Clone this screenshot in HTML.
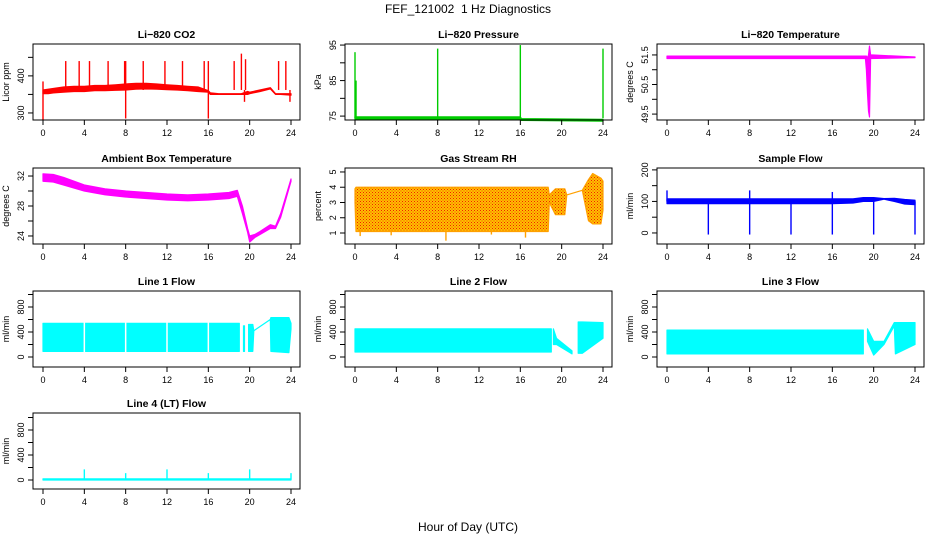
<!DOCTYPE html>
<html><head><meta charset="utf-8">
<style>
html,body{margin:0;padding:0;background:#fff;}
svg{display:block;font-family:"Liberation Sans",sans-serif;}
</style></head>
<body>
<svg id="fig" width="936" height="540" viewBox="0 0 936 540">
<defs>
<pattern id="rhpat" width="3" height="3" patternUnits="userSpaceOnUse">
<rect width="3" height="3" fill="#ffc000"/><rect x="0" y="0" width="1" height="1" fill="#f02000"/><rect x="1.5" y="1.5" width="1" height="1" fill="#f04000"/>
</pattern>
</defs>
<text x="468" y="13" font-size="12" text-anchor="middle" style="white-space:pre">FEF_121002  1 Hz Diagnostics</text>
<text x="468" y="531" font-size="12" text-anchor="middle">Hour of Day (UTC)</text>
</svg>
<script>
// ---- data ----
const xTicks = [0,4,8,12,16,20,24];

const co2T  = [0,0.5,1,2,3,4,5,6,7,8,9,10,11,12,13,14,15,16,16.2,17,18,19,19.2,19.8,20,21,22,22.5,23,24];
const co2Lo = [352,352,354,356,358,358,360,360,361,362,364,365,364,363,362,360,358,356,350,350,350,350,350,350,352,358,365,350,350,348];
const co2Hi = [362,364,366,370,372,372,374,374,376,378,380,380,378,376,374,372,370,360,354,352,352,352,352,358,356,362,368,352,352,352];
const co2SpikeT = [0,0,2.2,3.5,4.5,6.3,7.9,8,8,9.7,11.8,13.5,15.6,16,16,18.5,19.2,19.5,19.6,22.8,23.5,23.9];
const co2SpikeV = [385,280,440,440,440,440,440,440,285,440,440,440,440,440,285,440,460,330,445,440,440,330];

const presT  = [0,16,16.1,24];
const presLo = [74.1,74.1,73.8,73.6];
const presHi = [74.8,74.8,74.3,74.1];
const presSpikeT = [0,0.1,8,16,24];
const presSpikeV = [93,85,94,95,94];

const tempT  = [0,19.2,19.3,19.4,19.5,19.6,19.7,24];
const tempLo = [51.38,51.38,51.0,50.2,49.6,49.4,51.38,51.41];
const tempHi = [51.46,51.46,51.46,51.4,51.5,51.8,51.5,51.43];

const ambT  = [0,1,2,4,6,8,10,12,14,16,18,18.8,19.3,19.8,20,20.5,21,22,22.5,23,24];
const ambLo = [31.3,31.2,30.8,30,29.5,29.2,29.0,28.8,28.7,28.8,29.0,29.3,27,24.5,23.2,23.8,24.2,25,25,26.5,31.3];
const ambHi = [32.3,32.2,31.8,30.8,30.3,30,29.8,29.6,29.5,29.6,29.8,30.1,28,25,24,24.2,24.6,25.5,25.3,27,31.6];

const rhT  = [0,0.1,18.7,18.8,19.4,20.3,20.5,22,22.6,23,23.8,24];
const rhLo = [3,1.1,1.1,3,2.2,2.2,3.5,3.8,1.8,1.6,1.6,2.5];
const rhHi = [3.9,4,4,3.5,3.9,3.9,3.5,3.8,4.5,4.9,4.6,4.4];
const rhSpikeT = [0.5,3.5,8.8,13.2,16.5];
const rhSpikeV = [0.8,0.85,0.5,0.9,0.7];

const sampT  = [0,4,8,12,16,18,19,20,21,22,23,24];
const sampLo = [93,93,93,93,93,95,100,100,107,100,92,90];
const sampHi = [108,108,108,108,108,108,112,112,109,110,106,104];
const sampSpikeT = [4,8,12,16,20,24,0,8,16];
const sampSpikeV = [-5,-5,-5,-5,-5,-5,135,135,130];

const l1T  = [0,19,19.1,19.4,19.5,19.8,19.9,20.3,20.4,22,22.05,23.8,24];
const l1Lo = [90,90,null,90,90,null,90,90,420,600,90,70,450];
const l1Hi = [540,540,null,500,500,null,520,520,420,600,630,630,540];
const l2T  = [0,19,19.1,19.2,19.5,21,21.5,21.6,22,24];
const l2Lo = [80,80,null,200,200,50,null,60,60,300];
const l2Hi = [450,450,null,450,300,100,null,560,560,550];
const l3T  = [0,19,19.1,19.4,20,21,22,22.1,24];
const l3Lo = [50,50,null,250,30,200,500,50,200];
const l3Hi = [430,430,null,450,250,250,550,550,550];
const gapT = [4,8,12,16];
const l4T  = [0,24];
const l4Lo = [0,0];
const l4Hi = [20,20];
const l4SpikeT = [4,8,12,16,20,24];
const l4SpikeV = [170,110,170,110,170,110];

// ---- layout ----
const NS="http://www.w3.org/2000/svg";
const svg=document.getElementById('fig');
const colL=[33,345,657], rowT=[44,168,291,413], W=267, H=76;
function mk(tag,attrs,parent){const e=document.createElementNS(NS,tag);for(const k in attrs)e.setAttribute(k,attrs[k]);(parent||svg).appendChild(e);return e;}

function panel(col,row,name,title,ylab,ydom,yticks,ylabels,color,T,Lo,Hi,spT,spV,spBase,fill,gaps){
  const L=colL[col], Tp=rowT[row];
  const g=mk('g',{});
  
  
  const xs=h=>L+10+h*(248/24);
  const ys=v=>Tp+H-(v-ydom[0])/(ydom[1]-ydom[0])*H;
  const t=mk('text',{x:L+W/2,y:Tp-6,'font-size':10.5,'font-weight':'bold','text-anchor':'middle'},g);
  t.textContent=title;
  
  
  const cg=mk('g',{},g);
  
  
  let seg=[];
  const flush=()=>{ if(seg.length){
      const top=seg.map(i=>xs(T[i]).toFixed(1)+','+ys(Hi[i]).toFixed(1));
      const bot=seg.slice().reverse().map(i=>xs(T[i]).toFixed(1)+','+ys(Lo[i]).toFixed(1));
      const p=mk('polygon',{points:top.concat(bot).join(' '),fill:fill||color,stroke:color,'stroke-width':1.2,'stroke-linejoin':'round'},cg);
      
      
    } seg=[]; };
  for(let i=0;i<T.length;i++){ if(Lo[i]===null){flush();} else seg.push(i); }
  flush();
  if(gaps){ gaps.forEach(h=>{const l=mk('line',{x1:xs(h),x2:xs(h),y1:ys(Hi[0])-2,y2:ys(Lo[0])+2,stroke:'#fff','stroke-width':1.5},cg);
    
    }); }
  if(spT){ spT.forEach((h,i)=>{const l=mk('line',{x1:xs(h),x2:xs(h),y1:ys(spBase),y2:ys(spV[i]),stroke:color,'stroke-width':1.4},cg);
    
    }); }
  const b=mk('rect',{x:L,y:Tp,width:W,height:H,fill:'none',stroke:'#000','stroke-width':1},g);
  
  
  const xa=mk('g',{},g);
  
  
  mk('line',{x1:xs(0),x2:xs(24),y1:Tp+H,y2:Tp+H,stroke:'#000'},xa);
  xTicks.forEach(h=>{mk('line',{x1:xs(h),x2:xs(h),y1:Tp+H,y2:Tp+H+5,stroke:'#000'},xa);
    const tx=mk('text',{x:xs(h),y:Tp+H+16,'font-size':9,'text-anchor':'middle'},xa);tx.textContent=h;
    
    });
  const ya=mk('g',{},g);
  
  
  mk('line',{x1:L,x2:L,y1:ys(yticks[0]),y2:ys(yticks[yticks.length-1]),stroke:'#000'},ya);
  yticks.forEach(v=>{mk('line',{x1:L-5,x2:L,y1:ys(v),y2:ys(v),stroke:'#000'},ya);});
  ylabels.forEach(v=>{const tx=mk('text',{x:L-9,y:ys(v),'font-size':9,'text-anchor':'middle',transform:`rotate(-90 ${L-9} ${ys(v)})`},ya);tx.textContent=v;
    
    });
  const yl=mk('text',{x:L-24,y:Tp+H/2,'font-size':9,'text-anchor':'middle',transform:`rotate(-90 ${L-24} ${Tp+H/2})`},ya);
  yl.textContent=ylab;
  
  
}

panel(0,0,'co2','Li\u2212820 CO2','Licor ppm',[281,486],[300,350,400,450],[300,400],'#ff0000',co2T,co2Lo,co2Hi,co2SpikeT,co2SpikeV,362);
panel(1,0,'pressure','Li\u2212820 Pressure','kPa',[73.9,95.3],[75,80,85,90,95],[75,85,95],'#00cc00',presT,presLo,presHi,presSpikeT,presSpikeV,74.4);
panel(2,0,'temperature','Li\u2212820 Temperature','degrees C',[49.3,51.87],[49.5,50,50.5,51,51.5],[49.5,50.5,51.5],'#ff00ff',tempT,tempLo,tempHi,null,null,0);
panel(0,1,'ambient','Ambient Box Temperature','degrees C',[22.93,33.07],[24,26,28,30,32],[24,28,32],'#ff00ff',ambT,ambLo,ambHi,null,null,0);
panel(1,1,'gas-rh','Gas Stream RH','percent',[0.28,5.26],[1,2,3,4,5],[1,2,3,4,5],'#ffa000',rhT,rhLo,rhHi,rhSpikeT,rhSpikeV,1.2,'url(#rhpat)');
panel(2,1,'sample-flow','Sample Flow','ml/min',[-35,206],[0,50,100,150,200],[0,100,200],'#0000ff',sampT,sampLo,sampHi,sampSpikeT,sampSpikeV,100);
panel(0,2,'line1','Line 1 Flow','ml/min',[-160,1056],[0,200,400,600,800,1000],[0,400,800],'#00ffff',l1T,l1Lo,l1Hi,null,null,0,null,gapT);
panel(1,2,'line2','Line 2 Flow','ml/min',[-160,1056],[0,200,400,600,800,1000],[0,400,800],'#00ffff',l2T,l2Lo,l2Hi,null,null,0);
panel(2,2,'line3','Line 3 Flow','ml/min',[-160,1056],[0,200,400,600,800,1000],[0,400,800],'#00ffff',l3T,l3Lo,l3Hi,null,null,0);
panel(0,3,'line4','Line 4 (LT) Flow','ml/min',[-144,1072],[0,200,400,600,800,1000],[0,400,800],'#00ffff',l4T,l4Lo,l4Hi,l4SpikeT,l4SpikeV,10);
</script>
</body></html>
